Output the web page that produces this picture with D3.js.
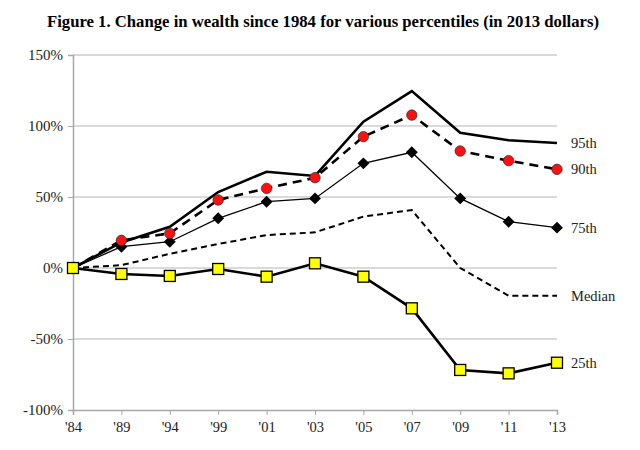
<!DOCTYPE html>
<html><head><meta charset="utf-8">
<script src="https://cdn.jsdelivr.net/npm/d3@7"></script>
<style>body{margin:0;background:#fff}</style>
</head><body>
<svg id="c" width="640" height="450"></svg>
<script>
const years = ["'84","'89","'94","'99","'01","'03","'05","'07","'09","'11","'13"];
const p95 = [0, 18, 29, 53.5, 67.8, 64.8, 103, 124.6, 95.3, 90, 88];
const p90 = [0, 19.5, 24.4, 47.9, 56.1, 63.6, 92.5, 107.7, 82.4, 75.6, 69.5];
const p75 = [0, 15, 18.5, 35, 46.7, 49, 73.7, 81.5, 49, 32.6, 28.4];
const median = [0, 2, 10, 16.9, 23.2, 25.1, 36.2, 40.8, 0, -19.5, -19.5];
const p25 = [0, -4.2, -5.6, -0.7, -6.1, 3.3, -6.1, -28.4, -71.8, -74.2, -66.7];
const yTicks = [-100, -50, 0, 50, 100, 150];
const title = "Figure 1. Change in wealth since 1984 for various percentiles (in 2013 dollars)";

const svg = d3.select("#c");
const font = "'Liberation Serif','Times New Roman',serif";
const x = d3.scalePoint().domain(years).range([73, 557]);
const y = d3.scaleLinear().domain([-100, 150]).range([410, 55]);

svg.append("text").attr("x", 323).attr("y", 27).attr("text-anchor", "middle")
  .attr("font-family", font).attr("font-weight", "bold").attr("font-size", 16.7)
  .attr("fill", "#000").text(title);

// gridlines
svg.append("g").selectAll("line").data(yTicks.filter(d => d > -100)).join("line")
  .attr("x1", 73).attr("x2", 557).attr("y1", d => y(d)).attr("y2", d => y(d))
  .attr("stroke", "#b5b5b5").attr("stroke-width", 1);

// y axis
const ya = svg.append("g").attr("transform", "translate(73,0)")
  .call(d3.axisLeft(y).tickValues(yTicks).tickFormat(d => d + "%").tickSize(5).tickPadding(5));
ya.select(".domain").attr("stroke", "#a8a8a8").attr("stroke-width", 1.5);
ya.selectAll(".tick line").attr("stroke", "#a8a8a8");
ya.selectAll("text").attr("font-family", font).attr("font-size", 15).attr("fill", "#222");

// x axis
const xa = svg.append("g").attr("transform", "translate(0,410)")
  .call(d3.axisBottom(x).tickSize(5).tickSizeOuter(5).tickPadding(7));
xa.select(".domain").attr("stroke", "#a8a8a8").attr("stroke-width", 1.5);
xa.selectAll(".tick line").attr("stroke", "#a8a8a8");
xa.selectAll("text").attr("font-family", font).attr("font-size", 14.5).attr("fill", "#222");

const line = d3.line().x((d, i) => x(years[i])).y(d => y(d));
function drawLine(data, w, dash) {
  svg.append("path").datum(data).attr("d", line).attr("fill", "none")
    .attr("stroke", "#000").attr("stroke-width", w)
    .attr("stroke-dasharray", dash).attr("stroke-linejoin", "miter");
}
drawLine(median, 2, "6,4");
drawLine(p75, 1.3, null);
drawLine(p95, 2.6, null);
drawLine(p90, 2.6, "9,6");
drawLine(p25, 2.6, null);

// markers
svg.append("g").selectAll("path").data(p75).join("path")
  .attr("d", d3.symbol().type(d3.symbolDiamond2).size(90))
  .attr("transform", (d, i) => `translate(${x(years[i])},${y(d)})`).attr("fill", "#000");
svg.append("g").selectAll("circle").data(p90).join("circle")
  .attr("cx", (d, i) => x(years[i])).attr("cy", d => y(d)).attr("r", 5.2)
  .attr("fill", "#ff1010").attr("stroke", "#333").attr("stroke-width", 0.8);
svg.append("g").selectAll("rect").data(p25).join("rect")
  .attr("x", (d, i) => x(years[i]) - 5.5).attr("y", d => y(d) - 5.5)
  .attr("width", 11).attr("height", 11)
  .attr("fill", "#ffff00").attr("stroke", "#000").attr("stroke-width", 1.3);

// series labels
const labels = [["95th", p95], ["90th", p90], ["75th", p75], ["Median", median], ["25th", p25]];
svg.append("g").selectAll("text").data(labels).join("text")
  .attr("x", 571).attr("y", d => y(d[1][d[1].length - 1]) + 5)
  .attr("font-family", font).attr("font-size", 14.5).attr("fill", "#222")
  .text(d => d[0]);
</script>
</body></html>
